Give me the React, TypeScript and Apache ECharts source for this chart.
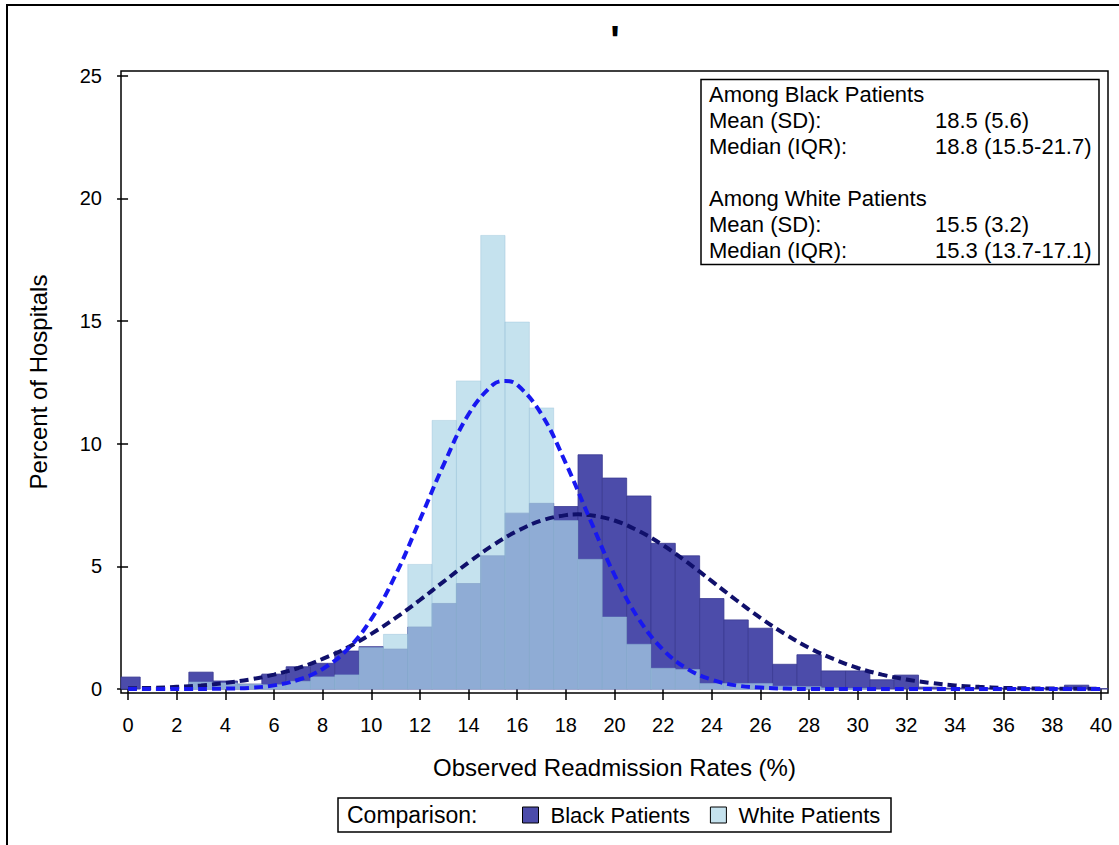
import React, { useEffect, useRef } from "react";
import * as echarts from "echarts";

// Histogram bin centres (bins are 1 unit wide)
const binCenters = [
  0, 1, 2, 3, 4, 5, 6, 7, 8, 9, 10, 11, 12, 13, 14, 15, 16, 17, 18, 19, 20,
  21, 22, 23, 24, 25, 26, 27, 28, 29, 30, 31, 32, 33, 34, 35, 36, 37, 38, 39, 40,
];
const binWidth = 1;

// Percent of hospitals per bin, among Black patients
const blackPct = [
  0.49, 0, 0, 0.69, 0.33, 0.2, 0.61, 0.91, 1.05, 1.55, 1.73, 1.63, 2.53, 3.49,
  4.3, 5.43, 7.17, 7.57, 7.44, 9.55, 8.6, 7.87, 5.94, 5.43, 3.69, 2.82, 2.48,
  1.01, 1.4, 0.74, 0.74, 0.38, 0.57, 0.08, 0.04, 0.04, 0.04, 0.04, 0.04, 0.16,
  0.02,
];

// Percent of hospitals per bin, among White patients
const whitePct = [
  0, 0, 0, 0.29, 0.25, 0.2, 0.18, 0.32, 0.5, 0.58, 1.69, 2.23, 5.08, 10.95,
  12.56, 18.49, 14.96, 11.46, 6.87, 5.29, 2.94, 1.83, 0.85, 0.8, 0.23, 0.23,
  0.23, 0.12, 0.1, 0.05, 0.03, 0, 0, 0, 0, 0, 0, 0, 0, 0, 0,
];

// Fitted normal curves
const blackCurveX = [
  0, 1, 2, 3, 4, 5, 6, 7, 8, 9, 10, 11, 12, 13, 14, 15, 16, 17, 18, 18.5, 19,
  20, 21, 22, 23, 24, 25, 26, 27, 28, 29, 30, 31, 32, 33, 34, 35, 36, 37, 38,
  39, 40,
];
const blackCurveY = [
  0.03, 0.05, 0.09, 0.15, 0.25, 0.39, 0.59, 0.86, 1.23, 1.68, 2.25, 2.9, 3.63,
  4.4, 5.16, 5.86, 6.44, 6.87, 7.09, 7.12, 7.09, 6.87, 6.44, 5.86, 5.16, 4.4,
  3.63, 2.9, 2.25, 1.68, 1.23, 0.86, 0.59, 0.39, 0.25, 0.15, 0.09, 0.05, 0.03,
  0.02, 0.01, 0.01,
];
const whiteCurveX = [
  0, 2, 4, 5, 6, 7, 8, 9, 10, 11, 12, 13, 14, 15, 15.5, 16, 17, 18, 19, 20, 21,
  22, 23, 24, 25, 26, 27, 28, 30, 32, 34, 36, 38, 40,
];
const whiteCurveY = [
  0, 0, 0.02, 0.05, 0.15, 0.38, 0.82, 1.6, 2.85, 4.65, 6.9, 9.2, 11.2, 12.4,
  12.56, 12.4, 11.2, 9.2, 6.9, 4.65, 2.85, 1.6, 0.82, 0.38, 0.15, 0.06, 0.02, 0,
  0, 0, 0, 0, 0, 0,
];

const xTicks = [
  0, 2, 4, 6, 8, 10, 12, 14, 16, 18, 20, 22, 24, 26, 28, 30, 32, 34, 36, 38, 40,
];
const yTicks = [0, 5, 10, 15, 20, 25];

const seriesNames = ["Black Patients", "White Patients"];
const statsLabels = [
  "Among Black Patients",
  "Mean (SD):",
  "Median (IQR):",
  "",
  "Among White Patients",
  "Mean (SD):",
  "Median (IQR):",
];
const statsValues = ["", "18.5 (5.6)", "18.8 (15.5-21.7)", "", "", "15.5 (3.2)", "15.3 (13.7-17.1)"];

const FONT = '"Liberation Sans", Arial, Helvetica, sans-serif';

function histRenderItem(params: any, api: any) {
  const x = api.value(0);
  const y = api.value(1);
  if (!y) return null;
  const p0 = api.coord([x - binWidth / 2, 0]);
  const p1 = api.coord([x + binWidth / 2, y]);
  const cs = params.coordSys;
  const rect = echarts.graphic.clipRectByRect(
    { x: p0[0], y: p1[1], width: p1[0] - p0[0], height: p0[1] - p1[1] },
    { x: cs.x, y: cs.y, width: cs.width, height: cs.height }
  );
  if (!rect) return null;
  return { type: "rect", shape: rect, style: api.style() };
}

export default function App() {
  const ref = useRef<HTMLDivElement>(null);

  useEffect(() => {
    const chart = echarts.init(ref.current!, null, { renderer: "svg" });
    const X_MIN = -0.29;
    const X_MAX = 40.29;

    const statsGraphics: any[] = [];
    statsLabels.forEach((t, i) => {
      const y = 94.5 + i * 26;
      if (t)
        statsGraphics.push({
          type: "text",
          x: 709,
          y,
          z: 11,
          style: { text: t, fontSize: 22, fontFamily: FONT, fill: "#000", verticalAlign: "middle" },
        });
      if (statsValues[i])
        statsGraphics.push({
          type: "text",
          x: 935,
          y,
          z: 11,
          style: { text: statsValues[i], fontSize: 22, fontFamily: FONT, fill: "#000", verticalAlign: "middle" },
        });
    });

    chart.setOption({
      animation: false,
      backgroundColor: "#fff",
      textStyle: { fontFamily: FONT, color: "#000" },
      grid: {
        left: 121,
        right: 11,
        top: 71,
        bottom: 152,
        show: true,
        borderColor: "#000",
        borderWidth: 1.5,
        backgroundColor: "transparent",
      },
      legend: {
        data: [
          { name: seriesNames[0], itemStyle: { color: "#4c4caa", borderColor: "#000", borderWidth: 1 } },
          { name: seriesNames[1], itemStyle: { color: "#c5e2ee", borderColor: "#000", borderWidth: 1 } },
        ],
        icon: "rect",
        left: 522,
        top: 804,
        padding: 0,
        itemWidth: 16,
        itemHeight: 16,
        itemGap: 20,
        selectedMode: false,
        textStyle: { fontSize: 22, color: "#000", fontFamily: FONT, padding: [0, 0, 0, 7] },
      },
      xAxis: {
        type: "value",
        min: X_MIN,
        max: X_MAX,
        axisLine: { show: false },
        axisTick: { show: true, customValues: xTicks, length: 11, lineStyle: { color: "#000", width: 1.5 } },
        axisLabel: { customValues: xTicks, fontSize: 20, margin: 22, color: "#000", fontFamily: FONT },
        splitLine: { show: false },
        name: "Observed Readmission Rates (%)",
        nameLocation: "middle",
        nameGap: 62,
        nameTextStyle: { fontSize: 24, color: "#000", fontFamily: FONT },
      },
      yAxis: {
        type: "value",
        min: -0.16,
        max: 25.19,
        axisLine: { show: false },
        axisTick: { show: true, customValues: yTicks, length: 11, lineStyle: { color: "#000", width: 1.5 } },
        axisLabel: { customValues: yTicks, fontSize: 20, margin: 19, color: "#000", fontFamily: FONT },
        splitLine: { show: false },
        name: "Percent of Hospitals",
        nameLocation: "middle",
        nameGap: 71,
        nameTextStyle: { fontSize: 24, color: "#000", fontFamily: FONT },
      },
      series: [
        {
          name: seriesNames[0],
          type: "custom",
          renderItem: histRenderItem,
          encode: { x: 0, y: 1 },
          data: binCenters.map((c, i) => [c, blackPct[i]]),
          itemStyle: { color: "#4c4caa", borderColor: "#3a3a92", borderWidth: 0.8 },
          z: 2,
        },
        {
          name: seriesNames[1],
          type: "custom",
          renderItem: histRenderItem,
          encode: { x: 0, y: 1 },
          data: binCenters.map((c, i) => [c, whitePct[i]]),
          itemStyle: { color: "rgba(172,214,231,0.7)", borderColor: "rgba(140,185,212,0.6)", borderWidth: 0.6 },
          z: 3,
        },
        {
          name: "Black fit",
          type: "line",
          data: blackCurveX.map((x, i) => [x, blackCurveY[i]]),
          showSymbol: false,
          smooth: 0.4,
          lineStyle: { color: "#10106b", width: 4, type: [9, 5] },
          z: 5,
        },
        {
          name: "White fit",
          type: "line",
          data: whiteCurveX.map((x, i) => [x, whiteCurveY[i]]),
          showSymbol: false,
          smooth: 0.4,
          lineStyle: { color: "#1818f0", width: 4, type: [9, 5] },
          z: 6,
        },
      ],
      graphic: [
        {
          type: "rect",
          shape: { x: 7, y: 5, width: 1140, height: 870 },
          style: { fill: "none", stroke: "#000", lineWidth: 2 },
          silent: true,
        },
        {
          type: "text",
          x: 615,
          y: 40,
          style: { text: "'", fontSize: 40, fontWeight: "bold", fontFamily: FONT, fill: "#000", align: "center", verticalAlign: "middle" },
        },
        {
          type: "rect",
          shape: { x: 701, y: 79.5, width: 398, height: 185 },
          style: { fill: "#fff", stroke: "#000", lineWidth: 1.5 },
          z: 10,
        },
        ...statsGraphics,
        {
          type: "rect",
          shape: { x: 338, y: 798, width: 553, height: 34 },
          style: { fill: "none", stroke: "#000", lineWidth: 1.5 },
        },
        {
          type: "text",
          x: 347,
          y: 815,
          style: { text: "Comparison:", fontSize: 23, fontFamily: FONT, fill: "#000", verticalAlign: "middle" },
        },
      ],
    });
    return () => chart.dispose();
  }, []);

  return (
    <div
      ref={ref}
      style={{ position: "absolute", left: 0, top: 0, width: 1119, height: 845, background: "#fff" }}
    />
  );
}
